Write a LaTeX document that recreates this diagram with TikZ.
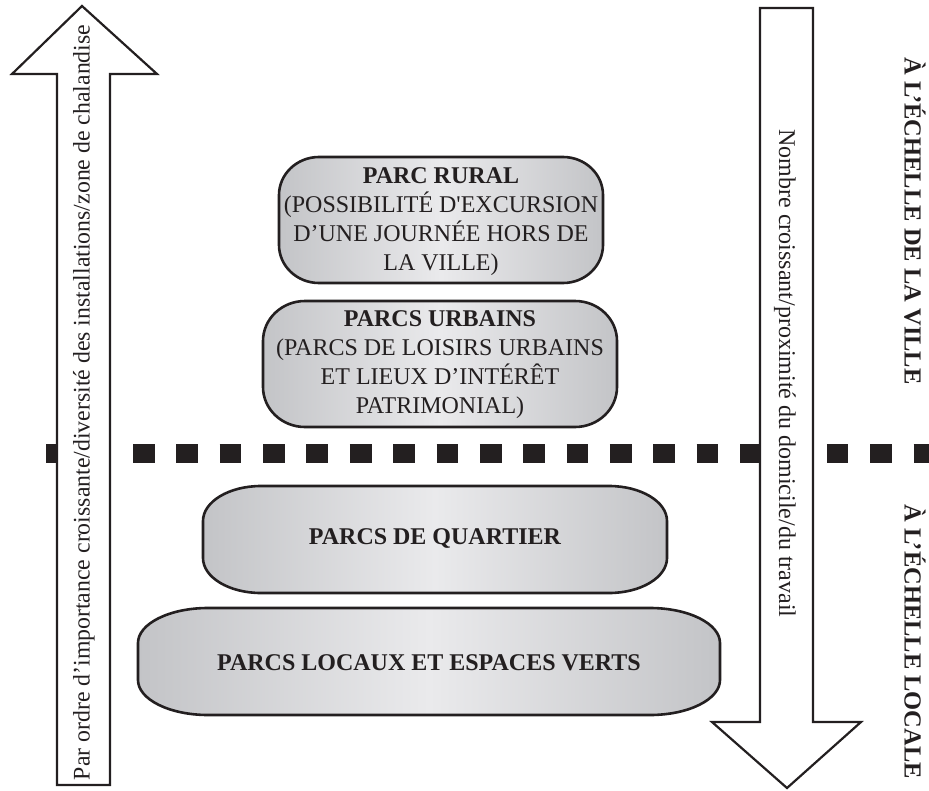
\documentclass[tikz,border=0pt]{standalone}
\usepackage{fontspec}
\setmainfont{Liberation Serif}
\definecolor{ink}{HTML}{231F20}
\definecolor{boxedge}{HTML}{C3C4C7}
\definecolor{boxmid}{HTML}{EAEAEC}
\tikzset{
  arrowshape/.style={draw=ink, line width=2.2pt, fill=white, line join=miter},
  parcbox/.style={draw=ink, line width=2.6pt, left color=boxedge, right color=boxedge, middle color=boxmid},
  parctext/.style={text=ink, align=center, font=\fontsize{24}{29}\selectfont, inner sep=0pt},
  sidetext/.style={text=ink, font=\fontsize{24}{29}\selectfont, inner sep=0pt, anchor=base},
  scaletext/.style={text=ink, font=\fontsize{24.5}{29}\selectfont\bfseries, inner sep=0pt, anchor=base},
  separator/.style={draw=ink, line width=19pt, dash pattern=on 21.7pt off 21.66pt}
}
% x1,y1 (top-left), x2,y2 (bottom-right), corner radii rx, ry
\newcommand\parcshape[6]{%
  \draw[parcbox] ({#1+#5},#2) -- ({#3-#5},#2)
    .. controls ({#3-#5*0.448},#2) and (#3,{#2+#6*0.448}) .. (#3,{#2+#6})
    -- (#3,{#4-#6})
    .. controls (#3,{#4-#6*0.448}) and ({#3-#5*0.448},#4) .. ({#3-#5},#4)
    -- ({#1+#5},#4)
    .. controls ({#1+#5*0.448},#4) and (#1,{#4-#6*0.448}) .. (#1,{#4-#6})
    -- (#1,{#2+#6})
    .. controls (#1,{#2+#6*0.448}) and ({#1+#5*0.448},#2) .. cycle;}
\begin{document}
\begin{tikzpicture}[x=1pt,y=-1pt]
\useasboundingbox (0,0) rectangle (929,790);
% separator
\coordinate (sepL) at (46.3,453.5);
\coordinate (sepR) at (929,453.5);
\draw[separator] (sepL) -- (sepR);
% up arrow
\draw[arrowshape] (57,785) -- (57,74) -- (12,74) -- (82,6) -- (157,74) -- (110,74) -- (110,785) -- cycle;
% down arrow
\draw[arrowshape] (760,8) -- (813,8) -- (813,722) -- (861,722) -- (787,788) -- (712,722) -- (760,722) -- cycle;
% boxes
\parcshape{279}{157}{603}{283}{40}{38}
\parcshape{263}{301}{617}{427}{42}{40}
\parcshape{203}{486}{667}{593}{58}{35}
\parcshape{138}{608}{720}{715}{70}{35}
\node[parctext] (rural) at (441,222) {\textbf{PARC RURAL}\\(POSSIBILITÉ D\textquotesingle EXCURSION\\D’UNE JOURNÉE HORS DE\\LA VILLE)};
\node[parctext] (urbains) at (440,365) {\textbf{PARCS URBAINS}\\(PARCS DE LOISIRS URBAINS\\ET LIEUX D’INTÉRÊT\\PATRIMONIAL)};
\node[parctext, anchor=base] (quartier) at (435,544) {\bfseries PARCS DE QUARTIER};
\node[parctext, anchor=base] (locaux) at (429,670) {\bfseries PARCS LOCAUX ET ESPACES VERTS};
% arrow labels
\node[sidetext, rotate=90, font=\fontsize{23.8}{29}\selectfont] (uplabel) at (89.5,402.5) {Par ordre d’importance croissante/diversité des installations/zone de chalandise};
\node[sidetext, rotate=-90] (downlabel) at (779,373.5) {Nombre croissant/proximité du domicile/du travail};
% scale labels
\node[scaletext, rotate=-90] (ville) at (904.5,221) {À L’ÉCHELLE DE LA VILLE};
\node[scaletext, rotate=-90] (locale) at (904.5,642) {À L’ÉCHELLE LOCALE};
\end{tikzpicture}
\end{document}
